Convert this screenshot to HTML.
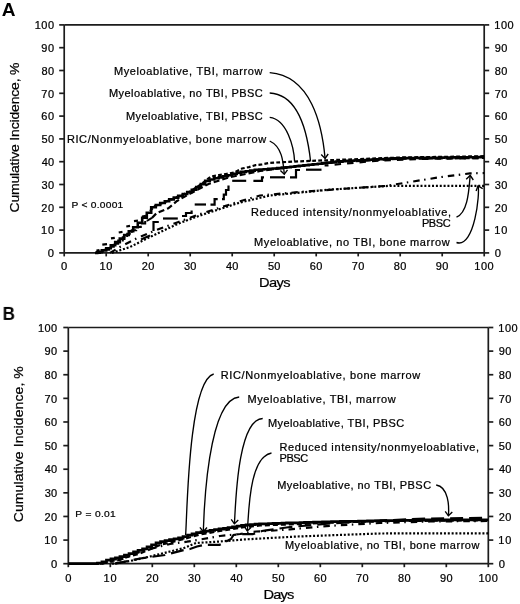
<!DOCTYPE html>
<html><head><meta charset="utf-8"><style>
html,body{margin:0;padding:0;background:#fff;}
svg{display:block;will-change:transform;}
text{font-family:"Liberation Sans", sans-serif;fill:#000;font-kerning:none;stroke:#000;stroke-width:0.22px;}
</style></head><body>
<svg width="520" height="604" viewBox="0 0 520 604">
<defs><filter id="b" x="0" y="0" width="520" height="604" filterUnits="userSpaceOnUse"><feGaussianBlur stdDeviation="0.3"/></filter></defs>
<rect width="520" height="604" fill="#fff"/>
<g filter="url(#b)">
<line x1="64.2" y1="24.9" x2="64.2" y2="252.9" stroke="#1e1e1e" stroke-width="1.7"/>
<line x1="484.2" y1="24.9" x2="484.2" y2="252.9" stroke="#1e1e1e" stroke-width="1.7"/>
<line x1="64.2" y1="24.9" x2="484.2" y2="24.9" stroke="#1e1e1e" stroke-width="1.7"/>
<line x1="64.2" y1="252.9" x2="484.2" y2="252.9" stroke="#1e1e1e" stroke-width="1.7"/>
<line x1="59.2" y1="252.9" x2="64.2" y2="252.9" stroke="#1e1e1e" stroke-width="1.7"/>
<line x1="484.2" y1="252.9" x2="489.2" y2="252.9" stroke="#1e1e1e" stroke-width="1.7"/>
<text transform="translate(47.80,257.10) scale(1.121,1)" x="0" y="0" font-size="10.0" style="letter-spacing:0.000px">0</text>
<text transform="translate(494.76,257.10) scale(1.121,1)" x="0" y="0" font-size="10.0" style="letter-spacing:0.000px">0</text>
<line x1="59.2" y1="230.1" x2="64.2" y2="230.1" stroke="#1e1e1e" stroke-width="1.7"/>
<line x1="484.2" y1="230.1" x2="489.2" y2="230.1" stroke="#1e1e1e" stroke-width="1.7"/>
<text transform="translate(41.04,234.30) scale(1.100,1)" x="0" y="0" font-size="10.0" style="letter-spacing:0.684px">10</text>
<text transform="translate(494.36,234.30) scale(1.100,1)" x="0" y="0" font-size="10.0" style="letter-spacing:0.684px">10</text>
<line x1="59.2" y1="207.3" x2="64.2" y2="207.3" stroke="#1e1e1e" stroke-width="1.7"/>
<line x1="484.2" y1="207.3" x2="489.2" y2="207.3" stroke="#1e1e1e" stroke-width="1.7"/>
<text transform="translate(41.33,211.50) scale(1.100,1)" x="0" y="0" font-size="10.0" style="letter-spacing:0.425px">20</text>
<text transform="translate(494.65,211.50) scale(1.100,1)" x="0" y="0" font-size="10.0" style="letter-spacing:0.425px">20</text>
<line x1="59.2" y1="184.5" x2="64.2" y2="184.5" stroke="#1e1e1e" stroke-width="1.7"/>
<line x1="484.2" y1="184.5" x2="489.2" y2="184.5" stroke="#1e1e1e" stroke-width="1.7"/>
<text transform="translate(41.46,188.70) scale(1.100,1)" x="0" y="0" font-size="10.0" style="letter-spacing:0.303px">30</text>
<text transform="translate(494.78,188.70) scale(1.100,1)" x="0" y="0" font-size="10.0" style="letter-spacing:0.303px">30</text>
<line x1="59.2" y1="161.7" x2="64.2" y2="161.7" stroke="#1e1e1e" stroke-width="1.7"/>
<line x1="484.2" y1="161.7" x2="489.2" y2="161.7" stroke="#1e1e1e" stroke-width="1.7"/>
<text transform="translate(41.63,165.90) scale(1.100,1)" x="0" y="0" font-size="10.0" style="letter-spacing:0.152px">40</text>
<text transform="translate(494.95,165.90) scale(1.100,1)" x="0" y="0" font-size="10.0" style="letter-spacing:0.152px">40</text>
<line x1="59.2" y1="138.9" x2="64.2" y2="138.9" stroke="#1e1e1e" stroke-width="1.7"/>
<line x1="484.2" y1="138.9" x2="489.2" y2="138.9" stroke="#1e1e1e" stroke-width="1.7"/>
<text transform="translate(41.44,143.10) scale(1.100,1)" x="0" y="0" font-size="10.0" style="letter-spacing:0.323px">50</text>
<text transform="translate(494.76,143.10) scale(1.100,1)" x="0" y="0" font-size="10.0" style="letter-spacing:0.323px">50</text>
<line x1="59.2" y1="116.1" x2="64.2" y2="116.1" stroke="#1e1e1e" stroke-width="1.7"/>
<line x1="484.2" y1="116.1" x2="489.2" y2="116.1" stroke="#1e1e1e" stroke-width="1.7"/>
<text transform="translate(41.32,120.30) scale(1.100,1)" x="0" y="0" font-size="10.0" style="letter-spacing:0.430px">60</text>
<text transform="translate(494.64,120.30) scale(1.100,1)" x="0" y="0" font-size="10.0" style="letter-spacing:0.430px">60</text>
<line x1="59.2" y1="93.30000000000001" x2="64.2" y2="93.30000000000001" stroke="#1e1e1e" stroke-width="1.7"/>
<line x1="484.2" y1="93.30000000000001" x2="489.2" y2="93.30000000000001" stroke="#1e1e1e" stroke-width="1.7"/>
<text transform="translate(41.32,97.50) scale(1.100,1)" x="0" y="0" font-size="10.0" style="letter-spacing:0.435px">70</text>
<text transform="translate(494.64,97.50) scale(1.100,1)" x="0" y="0" font-size="10.0" style="letter-spacing:0.435px">70</text>
<line x1="59.2" y1="70.5" x2="64.2" y2="70.5" stroke="#1e1e1e" stroke-width="1.7"/>
<line x1="484.2" y1="70.5" x2="489.2" y2="70.5" stroke="#1e1e1e" stroke-width="1.7"/>
<text transform="translate(41.40,74.70) scale(1.100,1)" x="0" y="0" font-size="10.0" style="letter-spacing:0.357px">80</text>
<text transform="translate(494.72,74.70) scale(1.100,1)" x="0" y="0" font-size="10.0" style="letter-spacing:0.357px">80</text>
<line x1="59.2" y1="47.70000000000002" x2="64.2" y2="47.70000000000002" stroke="#1e1e1e" stroke-width="1.7"/>
<line x1="484.2" y1="47.70000000000002" x2="489.2" y2="47.70000000000002" stroke="#1e1e1e" stroke-width="1.7"/>
<text transform="translate(41.36,51.90) scale(1.100,1)" x="0" y="0" font-size="10.0" style="letter-spacing:0.391px">90</text>
<text transform="translate(494.68,51.90) scale(1.100,1)" x="0" y="0" font-size="10.0" style="letter-spacing:0.391px">90</text>
<line x1="59.2" y1="24.900000000000006" x2="64.2" y2="24.900000000000006" stroke="#1e1e1e" stroke-width="1.7"/>
<line x1="484.2" y1="24.900000000000006" x2="489.2" y2="24.900000000000006" stroke="#1e1e1e" stroke-width="1.7"/>
<text transform="translate(34.68,29.10) scale(1.100,1)" x="0" y="0" font-size="10.0" style="letter-spacing:0.452px">100</text>
<text transform="translate(494.36,29.10) scale(1.100,1)" x="0" y="0" font-size="10.0" style="letter-spacing:0.452px">100</text>
<line x1="64.2" y1="252.9" x2="64.2" y2="256.4" stroke="#1e1e1e" stroke-width="1.7"/>
<text transform="translate(61.08,270.10) scale(1.121,1)" x="0" y="0" font-size="10.0" style="letter-spacing:0.000px">0</text>
<line x1="106.2" y1="252.9" x2="106.2" y2="256.4" stroke="#1e1e1e" stroke-width="1.7"/>
<text transform="translate(99.50,270.10) scale(1.100,1)" x="0" y="0" font-size="10.0" style="letter-spacing:0.684px">10</text>
<line x1="148.2" y1="252.9" x2="148.2" y2="256.4" stroke="#1e1e1e" stroke-width="1.7"/>
<text transform="translate(141.79,270.10) scale(1.100,1)" x="0" y="0" font-size="10.0" style="letter-spacing:0.425px">20</text>
<line x1="190.2" y1="252.9" x2="190.2" y2="256.4" stroke="#1e1e1e" stroke-width="1.7"/>
<text transform="translate(183.92,270.10) scale(1.100,1)" x="0" y="0" font-size="10.0" style="letter-spacing:0.303px">30</text>
<line x1="232.2" y1="252.9" x2="232.2" y2="256.4" stroke="#1e1e1e" stroke-width="1.7"/>
<text transform="translate(226.09,270.10) scale(1.100,1)" x="0" y="0" font-size="10.0" style="letter-spacing:0.152px">40</text>
<line x1="274.2" y1="252.9" x2="274.2" y2="256.4" stroke="#1e1e1e" stroke-width="1.7"/>
<text transform="translate(267.90,270.10) scale(1.100,1)" x="0" y="0" font-size="10.0" style="letter-spacing:0.323px">50</text>
<line x1="316.2" y1="252.9" x2="316.2" y2="256.4" stroke="#1e1e1e" stroke-width="1.7"/>
<text transform="translate(309.78,270.10) scale(1.100,1)" x="0" y="0" font-size="10.0" style="letter-spacing:0.430px">60</text>
<line x1="358.2" y1="252.9" x2="358.2" y2="256.4" stroke="#1e1e1e" stroke-width="1.7"/>
<text transform="translate(351.78,270.10) scale(1.100,1)" x="0" y="0" font-size="10.0" style="letter-spacing:0.435px">70</text>
<line x1="400.2" y1="252.9" x2="400.2" y2="256.4" stroke="#1e1e1e" stroke-width="1.7"/>
<text transform="translate(393.86,270.10) scale(1.100,1)" x="0" y="0" font-size="10.0" style="letter-spacing:0.357px">80</text>
<line x1="442.2" y1="252.9" x2="442.2" y2="256.4" stroke="#1e1e1e" stroke-width="1.7"/>
<text transform="translate(435.82,270.10) scale(1.100,1)" x="0" y="0" font-size="10.0" style="letter-spacing:0.391px">90</text>
<line x1="484.2" y1="252.9" x2="484.2" y2="256.4" stroke="#1e1e1e" stroke-width="1.7"/>
<text transform="translate(474.32,270.10) scale(1.100,1)" x="0" y="0" font-size="10.0" style="letter-spacing:0.452px">100</text>
<text transform="translate(259.10,287.30) scale(1.100,1)" x="0" y="0" font-size="13.3" style="letter-spacing:-0.577px">Days</text>
<text transform="translate(18.90,212.51) rotate(-90) scale(1.050,1)" x="0" y="0" font-size="13.3" style="letter-spacing:-0.155px">Cumulative Incidence, %</text>
<text transform="translate(1.82,15.70) scale(1.037,1)" x="0" y="0" font-size="18.4" font-weight="bold" style="stroke-width:0;letter-spacing:0.000px">A</text>
<line x1="68.3" y1="327.5" x2="68.3" y2="563.7" stroke="#1e1e1e" stroke-width="1.7"/>
<line x1="488.3" y1="327.5" x2="488.3" y2="563.7" stroke="#1e1e1e" stroke-width="1.7"/>
<line x1="68.3" y1="327.5" x2="488.3" y2="327.5" stroke="#1e1e1e" stroke-width="1.7"/>
<line x1="68.3" y1="563.7" x2="488.3" y2="563.7" stroke="#1e1e1e" stroke-width="1.7"/>
<line x1="63.3" y1="563.7" x2="68.3" y2="563.7" stroke="#1e1e1e" stroke-width="1.7"/>
<line x1="488.3" y1="563.7" x2="493.3" y2="563.7" stroke="#1e1e1e" stroke-width="1.7"/>
<text transform="translate(51.00,567.90) scale(1.121,1)" x="0" y="0" font-size="10.0" style="letter-spacing:0.000px">0</text>
<text transform="translate(498.76,567.90) scale(1.121,1)" x="0" y="0" font-size="10.0" style="letter-spacing:0.000px">0</text>
<line x1="63.3" y1="540.08" x2="68.3" y2="540.08" stroke="#1e1e1e" stroke-width="1.7"/>
<line x1="488.3" y1="540.08" x2="493.3" y2="540.08" stroke="#1e1e1e" stroke-width="1.7"/>
<text transform="translate(44.24,544.28) scale(1.100,1)" x="0" y="0" font-size="10.0" style="letter-spacing:0.684px">10</text>
<text transform="translate(498.36,544.28) scale(1.100,1)" x="0" y="0" font-size="10.0" style="letter-spacing:0.684px">10</text>
<line x1="63.3" y1="516.46" x2="68.3" y2="516.46" stroke="#1e1e1e" stroke-width="1.7"/>
<line x1="488.3" y1="516.46" x2="493.3" y2="516.46" stroke="#1e1e1e" stroke-width="1.7"/>
<text transform="translate(44.53,520.66) scale(1.100,1)" x="0" y="0" font-size="10.0" style="letter-spacing:0.425px">20</text>
<text transform="translate(498.65,520.66) scale(1.100,1)" x="0" y="0" font-size="10.0" style="letter-spacing:0.425px">20</text>
<line x1="63.3" y1="492.84000000000003" x2="68.3" y2="492.84000000000003" stroke="#1e1e1e" stroke-width="1.7"/>
<line x1="488.3" y1="492.84000000000003" x2="493.3" y2="492.84000000000003" stroke="#1e1e1e" stroke-width="1.7"/>
<text transform="translate(44.66,497.04) scale(1.100,1)" x="0" y="0" font-size="10.0" style="letter-spacing:0.303px">30</text>
<text transform="translate(498.78,497.04) scale(1.100,1)" x="0" y="0" font-size="10.0" style="letter-spacing:0.303px">30</text>
<line x1="63.3" y1="469.22" x2="68.3" y2="469.22" stroke="#1e1e1e" stroke-width="1.7"/>
<line x1="488.3" y1="469.22" x2="493.3" y2="469.22" stroke="#1e1e1e" stroke-width="1.7"/>
<text transform="translate(44.83,473.42) scale(1.100,1)" x="0" y="0" font-size="10.0" style="letter-spacing:0.152px">40</text>
<text transform="translate(498.95,473.42) scale(1.100,1)" x="0" y="0" font-size="10.0" style="letter-spacing:0.152px">40</text>
<line x1="63.3" y1="445.6" x2="68.3" y2="445.6" stroke="#1e1e1e" stroke-width="1.7"/>
<line x1="488.3" y1="445.6" x2="493.3" y2="445.6" stroke="#1e1e1e" stroke-width="1.7"/>
<text transform="translate(44.64,449.80) scale(1.100,1)" x="0" y="0" font-size="10.0" style="letter-spacing:0.323px">50</text>
<text transform="translate(498.76,449.80) scale(1.100,1)" x="0" y="0" font-size="10.0" style="letter-spacing:0.323px">50</text>
<line x1="63.3" y1="421.98" x2="68.3" y2="421.98" stroke="#1e1e1e" stroke-width="1.7"/>
<line x1="488.3" y1="421.98" x2="493.3" y2="421.98" stroke="#1e1e1e" stroke-width="1.7"/>
<text transform="translate(44.52,426.18) scale(1.100,1)" x="0" y="0" font-size="10.0" style="letter-spacing:0.430px">60</text>
<text transform="translate(498.64,426.18) scale(1.100,1)" x="0" y="0" font-size="10.0" style="letter-spacing:0.430px">60</text>
<line x1="63.3" y1="398.36" x2="68.3" y2="398.36" stroke="#1e1e1e" stroke-width="1.7"/>
<line x1="488.3" y1="398.36" x2="493.3" y2="398.36" stroke="#1e1e1e" stroke-width="1.7"/>
<text transform="translate(44.52,402.56) scale(1.100,1)" x="0" y="0" font-size="10.0" style="letter-spacing:0.435px">70</text>
<text transform="translate(498.64,402.56) scale(1.100,1)" x="0" y="0" font-size="10.0" style="letter-spacing:0.435px">70</text>
<line x1="63.3" y1="374.74" x2="68.3" y2="374.74" stroke="#1e1e1e" stroke-width="1.7"/>
<line x1="488.3" y1="374.74" x2="493.3" y2="374.74" stroke="#1e1e1e" stroke-width="1.7"/>
<text transform="translate(44.60,378.94) scale(1.100,1)" x="0" y="0" font-size="10.0" style="letter-spacing:0.357px">80</text>
<text transform="translate(498.72,378.94) scale(1.100,1)" x="0" y="0" font-size="10.0" style="letter-spacing:0.357px">80</text>
<line x1="63.3" y1="351.12" x2="68.3" y2="351.12" stroke="#1e1e1e" stroke-width="1.7"/>
<line x1="488.3" y1="351.12" x2="493.3" y2="351.12" stroke="#1e1e1e" stroke-width="1.7"/>
<text transform="translate(44.56,355.32) scale(1.100,1)" x="0" y="0" font-size="10.0" style="letter-spacing:0.391px">90</text>
<text transform="translate(498.68,355.32) scale(1.100,1)" x="0" y="0" font-size="10.0" style="letter-spacing:0.391px">90</text>
<line x1="63.3" y1="327.5" x2="68.3" y2="327.5" stroke="#1e1e1e" stroke-width="1.7"/>
<line x1="488.3" y1="327.5" x2="493.3" y2="327.5" stroke="#1e1e1e" stroke-width="1.7"/>
<text transform="translate(37.88,331.70) scale(1.100,1)" x="0" y="0" font-size="10.0" style="letter-spacing:0.452px">100</text>
<text transform="translate(498.36,331.70) scale(1.100,1)" x="0" y="0" font-size="10.0" style="letter-spacing:0.452px">100</text>
<line x1="68.3" y1="563.7" x2="68.3" y2="567.2" stroke="#1e1e1e" stroke-width="1.7"/>
<text transform="translate(65.18,581.50) scale(1.121,1)" x="0" y="0" font-size="10.0" style="letter-spacing:0.000px">0</text>
<line x1="110.3" y1="563.7" x2="110.3" y2="567.2" stroke="#1e1e1e" stroke-width="1.7"/>
<text transform="translate(103.60,581.50) scale(1.100,1)" x="0" y="0" font-size="10.0" style="letter-spacing:0.684px">10</text>
<line x1="152.3" y1="563.7" x2="152.3" y2="567.2" stroke="#1e1e1e" stroke-width="1.7"/>
<text transform="translate(145.89,581.50) scale(1.100,1)" x="0" y="0" font-size="10.0" style="letter-spacing:0.425px">20</text>
<line x1="194.3" y1="563.7" x2="194.3" y2="567.2" stroke="#1e1e1e" stroke-width="1.7"/>
<text transform="translate(188.02,581.50) scale(1.100,1)" x="0" y="0" font-size="10.0" style="letter-spacing:0.303px">30</text>
<line x1="236.3" y1="563.7" x2="236.3" y2="567.2" stroke="#1e1e1e" stroke-width="1.7"/>
<text transform="translate(230.19,581.50) scale(1.100,1)" x="0" y="0" font-size="10.0" style="letter-spacing:0.152px">40</text>
<line x1="278.3" y1="563.7" x2="278.3" y2="567.2" stroke="#1e1e1e" stroke-width="1.7"/>
<text transform="translate(272.00,581.50) scale(1.100,1)" x="0" y="0" font-size="10.0" style="letter-spacing:0.323px">50</text>
<line x1="320.3" y1="563.7" x2="320.3" y2="567.2" stroke="#1e1e1e" stroke-width="1.7"/>
<text transform="translate(313.88,581.50) scale(1.100,1)" x="0" y="0" font-size="10.0" style="letter-spacing:0.430px">60</text>
<line x1="362.3" y1="563.7" x2="362.3" y2="567.2" stroke="#1e1e1e" stroke-width="1.7"/>
<text transform="translate(355.88,581.50) scale(1.100,1)" x="0" y="0" font-size="10.0" style="letter-spacing:0.435px">70</text>
<line x1="404.3" y1="563.7" x2="404.3" y2="567.2" stroke="#1e1e1e" stroke-width="1.7"/>
<text transform="translate(397.96,581.50) scale(1.100,1)" x="0" y="0" font-size="10.0" style="letter-spacing:0.357px">80</text>
<line x1="446.3" y1="563.7" x2="446.3" y2="567.2" stroke="#1e1e1e" stroke-width="1.7"/>
<text transform="translate(439.92,581.50) scale(1.100,1)" x="0" y="0" font-size="10.0" style="letter-spacing:0.391px">90</text>
<line x1="488.3" y1="563.7" x2="488.3" y2="567.2" stroke="#1e1e1e" stroke-width="1.7"/>
<text transform="translate(478.42,581.50) scale(1.100,1)" x="0" y="0" font-size="10.0" style="letter-spacing:0.452px">100</text>
<text transform="translate(263.40,599.20) scale(1.100,1)" x="0" y="0" font-size="13.3" style="letter-spacing:-0.728px">Days</text>
<text transform="translate(22.50,522.21) rotate(-90) scale(1.050,1)" x="0" y="0" font-size="13.3" style="letter-spacing:0.105px">Cumulative Incidence, %</text>
<text transform="translate(2.61,319.90) scale(0.922,1)" x="0" y="0" font-size="18.4" font-weight="bold" style="stroke-width:0;letter-spacing:0.000px">B</text>
<text transform="translate(113.90,74.50) scale(1.100,1)" x="0" y="0" font-size="10.0" style="letter-spacing:0.557px">Myeloablative, TBI, marrow</text>
<text transform="translate(108.90,97.20) scale(1.100,1)" x="0" y="0" font-size="10.0" style="letter-spacing:0.426px">Myeloablative, no TBI, PBSC</text>
<text transform="translate(125.90,120.20) scale(1.100,1)" x="0" y="0" font-size="10.0" style="letter-spacing:0.414px">Myeloablative, TBI, PBSC</text>
<text transform="translate(66.90,143.40) scale(1.100,1)" x="0" y="0" font-size="10.0" style="letter-spacing:0.558px">RIC/Nonmyeloablative, bone marrow</text>
<text transform="translate(71.46,208.20) scale(1.100,1)" x="0" y="0" font-size="9.3" style="letter-spacing:0.209px">P &lt; 0.0001</text>
<text transform="translate(251.00,215.70) scale(1.100,1)" x="0" y="0" font-size="10.0" style="letter-spacing:0.562px">Reduced intensity/nonmyeloablative,</text>
<text transform="translate(421.90,226.80) scale(1.100,1)" x="0" y="0" font-size="10.0" style="letter-spacing:-0.374px">PBSC</text>
<text transform="translate(254.10,245.50) scale(1.100,1)" x="0" y="0" font-size="10.0" style="letter-spacing:0.540px">Myeloablative, no TBI, bone marrow</text>
<text transform="translate(220.80,379.40) scale(1.100,1)" x="0" y="0" font-size="10.0" style="letter-spacing:0.566px">RIC/Nonmyeloablative, bone marrow</text>
<text transform="translate(247.40,402.70) scale(1.100,1)" x="0" y="0" font-size="10.0" style="letter-spacing:0.550px">Myeloablative, TBI, marrow</text>
<text transform="translate(267.90,426.70) scale(1.100,1)" x="0" y="0" font-size="10.0" style="letter-spacing:0.390px">Myeloablative, TBI, PBSC</text>
<text transform="translate(279.50,451.20) scale(1.100,1)" x="0" y="0" font-size="10.0" style="letter-spacing:0.549px">Reduced intensity/nonmyeloablative,</text>
<text transform="translate(279.50,462.30) scale(1.100,1)" x="0" y="0" font-size="10.0" style="letter-spacing:-0.374px">PBSC</text>
<text transform="translate(277.20,488.70) scale(1.100,1)" x="0" y="0" font-size="10.0" style="letter-spacing:0.426px">Myeloablative, no TBI, PBSC</text>
<text transform="translate(75.26,517.30) scale(1.100,1)" x="0" y="0" font-size="9.3" style="letter-spacing:0.279px">P = 0.01</text>
<text transform="translate(284.90,548.80) scale(1.100,1)" x="0" y="0" font-size="10.0" style="letter-spacing:0.515px">Myeloablative, no TBI, bone marrow</text>
<polyline points="96.5,250.6 99.5,250.0" fill="none" stroke="#000" stroke-width="2.2" stroke-linejoin="miter"/>
<polyline points="102.3,244.7 107.0,244.1" fill="none" stroke="#000" stroke-width="2.2" stroke-linejoin="miter"/>
<polyline points="111.0,238.4 114.8,237.8" fill="none" stroke="#000" stroke-width="2.2" stroke-linejoin="miter"/>
<polyline points="118.7,232.5 122.5,231.9" fill="none" stroke="#000" stroke-width="2.2" stroke-linejoin="miter"/>
<polyline points="126.3,226.5 130.0,225.9" fill="none" stroke="#000" stroke-width="2.2" stroke-linejoin="miter"/>
<polyline points="134.0,221.2 138.0,220.6" fill="none" stroke="#000" stroke-width="2.2" stroke-linejoin="miter"/>
<polyline points="142.0,216.5 146.0,215.9" fill="none" stroke="#000" stroke-width="2.2" stroke-linejoin="miter"/>
<polyline points="150.0,211.0 155.0,206.0 170.0,200.0 190.0,191.5 200.0,185.0 211.0,176.5 219.0,175.2 227.0,173.8 234.0,172.5 242.0,168.5 249.0,167.1 255.6,165.1 262.0,164.4 270.0,162.8 300.0,161.3 340.0,159.8 400.0,157.5 484.2,156.2" fill="none" stroke="#000" stroke-width="2.2" stroke-dasharray="3.8 2.2" stroke-linejoin="miter"/>
<polyline points="95.0,252.9 97.2,252.9 97.2,252.1 101.8,252.1 101.8,250.4 106.2,250.4 106.2,248.2 110.8,248.2 110.8,245.3 115.2,245.3 115.2,242.1 119.8,242.1 119.8,238.6 124.2,238.6 124.2,235.0 128.8,235.0 128.8,231.2 133.2,231.2 133.2,227.2 137.8,227.2 137.8,222.8 142.2,222.8 142.2,217.8 146.8,217.8 146.8,212.7 151.2,212.7 151.2,207.3 155.8,207.3 155.8,205.0 160.2,205.0 160.2,203.0 164.8,203.0 164.8,201.2 169.2,201.2 169.2,199.4 173.8,199.4 173.8,197.6 178.2,197.6 178.2,195.9 182.8,195.9 182.8,194.0 187.2,194.0 187.2,192.0 191.8,192.0 191.8,189.7 196.2,189.7 196.2,187.0 200.8,187.0 200.8,184.1 205.2,184.1 205.2,180.9 209.8,180.9 209.8,179.5 214.2,179.5 214.2,178.2 218.8,178.2 218.8,177.4 223.2,177.4 223.2,176.3 227.8,176.3 227.8,175.2 232.2,175.2 232.2,173.9 236.8,173.9 236.8,172.6 241.2,172.6 241.2,171.9 245.8,171.9 245.8,171.3 250.2,171.3 250.2,170.6 254.8,170.6 254.8,169.8 259.2,169.8 259.2,169.5 263.8,169.5 263.8,169.2 268.2,169.2 268.2,168.9 272.8,168.9 272.8,168.5 277.2,168.5 277.2,168.1 281.8,168.1 281.8,167.6 286.2,167.6 286.2,167.2 290.8,167.2 290.8,166.7 295.2,166.7 295.2,166.2 299.8,166.2 299.8,165.8 304.2,165.8 304.2,165.2 308.8,165.2 308.8,164.7 313.2,164.7 313.2,164.2 317.8,164.2 317.8,163.7 322.2,163.7 322.2,163.1 326.8,163.1 326.8,162.6 331.2,162.6 331.2,162.1 335.8,162.1 335.8,161.5 340.2,161.5 340.2,161.2 344.8,161.2 344.8,160.9 349.2,160.9 349.2,160.7 353.8,160.7 353.8,160.5 358.2,160.5 358.2,160.2 362.8,160.2 362.8,160.0 367.2,160.0 367.2,159.8 371.8,159.8 371.8,159.5 376.2,159.5 376.2,159.3 380.8,159.3 380.8,159.1 385.2,159.1 385.2,158.8 389.8,158.8 389.8,158.6 394.2,158.6 394.2,158.4 398.8,158.4 398.8,158.2 403.2,158.2 403.2,158.1 407.8,158.1 407.8,158.1 412.2,158.1 412.2,158.0 416.8,158.0 416.8,157.9 421.2,157.9 421.2,157.9 425.8,157.9 425.8,157.8 430.2,157.8 430.2,157.7 434.8,157.7 434.8,157.7 439.2,157.7 439.2,157.6 443.8,157.6 443.8,157.5 448.2,157.5 448.2,157.5 452.8,157.5 452.8,157.4 457.2,157.4 457.2,157.4 461.8,157.4 461.8,157.3 466.2,157.3 466.2,157.2 470.8,157.2 470.8,157.2 475.2,157.2 475.2,157.1 479.8,157.1 479.8,157.0 482.0,157.0 484.2,157.0" fill="none" stroke="#000" stroke-width="2.6" stroke-linejoin="miter"/>
<polyline points="98.0,252.9 100.2,252.9 100.2,251.7 104.8,251.7 104.8,249.7 109.2,249.7 109.2,246.7 113.8,246.7 113.8,243.7 118.2,243.7 118.2,240.6 122.8,240.6 122.8,237.2 127.2,237.2 127.2,233.7 131.8,233.7 131.8,230.3 136.2,230.3 136.2,226.9 140.8,226.9 140.8,223.5 145.2,223.5 145.2,220.5 147.5,220.5 151.9,217.9" fill="none" stroke="#000" stroke-width="2.0" stroke-dasharray="7 2" stroke-linejoin="miter"/>
<polyline points="151.9,217.9 156.7,213.0 168.3,208.3 177.0,201.0 186.5,195.5 196.0,190.5 208.5,184.0 228.5,177.5 260.0,171.0 300.0,165.5 340.0,162.0 400.0,158.8 484.2,158.0" fill="none" stroke="#000" stroke-width="2.2" stroke-dasharray="6 3" stroke-linejoin="miter"/>
<polyline points="141.0,239.5 150.0,235.5" fill="none" stroke="#000" stroke-width="2.2" stroke-linejoin="miter"/>
<polyline points="153.5,231.0 153.5,222.0 158.8,222.0" fill="none" stroke="#000" stroke-width="2.2" stroke-linejoin="miter"/>
<polyline points="163.0,218.5 177.8,218.5" fill="none" stroke="#000" stroke-width="2.2" stroke-linejoin="miter"/>
<polyline points="182.0,216.0 186.0,216.0 186.0,213.0 191.6,213.0 191.6,210.5" fill="none" stroke="#000" stroke-width="2.2" stroke-linejoin="miter"/>
<polyline points="194.7,204.5 206.0,204.5" fill="none" stroke="#000" stroke-width="2.2" stroke-linejoin="miter"/>
<polyline points="210.5,204.6 214.6,204.6 214.6,199.2 217.7,199.2" fill="none" stroke="#000" stroke-width="2.2" stroke-linejoin="miter"/>
<polyline points="222.0,199.2 223.8,199.2 223.8,194.6 226.0,194.6 226.0,190.0 228.5,190.0 228.5,185.4" fill="none" stroke="#000" stroke-width="2.2" stroke-linejoin="miter"/>
<polyline points="232.2,180.8 246.2,180.8" fill="none" stroke="#000" stroke-width="2.2" stroke-linejoin="miter"/>
<polyline points="253.4,180.8 262.0,180.8 262.0,177.3 264.0,177.3" fill="none" stroke="#000" stroke-width="2.2" stroke-linejoin="miter"/>
<polyline points="270.0,177.3 285.0,177.3" fill="none" stroke="#000" stroke-width="2.2" stroke-linejoin="miter"/>
<polyline points="290.0,177.3 296.0,177.3 296.0,170.0 300.0,170.0" fill="none" stroke="#000" stroke-width="2.2" stroke-linejoin="miter"/>
<polyline points="306.0,169.7 321.5,169.7" fill="none" stroke="#000" stroke-width="2.2" stroke-linejoin="miter"/>
<polyline points="324.6,165.4 328.5,165.4" fill="none" stroke="#000" stroke-width="2.2" stroke-linejoin="miter"/>
<polyline points="334.6,164.6 380.0,160.5 420.0,159.0 460.0,158.3 484.2,158.2" fill="none" stroke="#000" stroke-width="2.2" stroke-dasharray="6.5 6" stroke-linejoin="miter"/>
<polyline points="110.0,252.9 120.0,247.0 138.5,237.5 157.7,229.5 178.5,222.0 200.0,214.0 240.0,201.3 260.0,195.5 300.0,192.0 340.0,189.0 385.0,186.0 410.0,182.0 440.0,177.2 470.0,173.4 484.2,173.0" fill="none" stroke="#000" stroke-width="2.2" stroke-dasharray="6.5 4.5 1.5 5" stroke-linejoin="miter"/>
<polyline points="112.0,252.9 130.0,247.0 150.0,237.0 178.5,223.5 200.0,215.5 240.0,202.5 270.0,195.5 330.0,189.6 390.0,185.8 484.2,185.8" fill="none" stroke="#000" stroke-width="2.2" stroke-dasharray="2 1.85" stroke-linejoin="miter"/>
<polyline points="68.3,563.7 70.5,563.7 70.5,563.7 75.0,563.7 75.0,563.7 79.5,563.7 79.5,563.7 84.0,563.7 84.0,563.7 88.5,563.7 88.5,563.7 93.0,563.7 93.0,563.7 97.5,563.7 97.5,563.2 102.0,563.2 102.0,561.9 106.5,561.9 106.5,560.2 111.0,560.2 111.0,559.0 115.5,559.0 115.5,557.8 120.0,557.8 120.0,556.6 124.5,556.6 124.5,555.2 129.1,555.2 129.1,553.6 133.6,553.6 133.6,552.0 138.1,552.0 138.1,550.4 142.6,550.4 142.6,548.9 147.1,548.9 147.1,546.8 151.6,546.8 151.6,544.9 156.1,544.9 156.1,543.0 160.6,543.0 160.6,541.7 165.1,541.7 165.1,540.6 169.6,540.6 169.6,539.7 174.1,539.7 174.1,538.9 178.6,538.9 178.6,538.0 183.1,538.0 183.1,536.6 187.6,536.6 187.6,535.2 192.1,535.2 192.1,534.0 196.6,534.0 196.6,532.7 201.1,532.7 201.1,531.9 205.6,531.9 205.6,531.2 210.1,531.2 210.1,530.4 214.6,530.4 214.6,529.7 219.1,529.7 219.1,529.0 223.6,529.0 223.6,528.3 228.1,528.3 228.1,527.6 232.6,527.6 232.6,526.8 237.1,526.8 237.1,526.1 241.6,526.1 241.6,525.4 246.1,525.4 246.1,524.9 250.6,524.9 250.6,524.6 255.1,524.6 255.1,524.2 259.6,524.2 259.6,523.9 264.1,523.9 264.1,523.8 268.6,523.8 268.6,523.6 273.1,523.6 273.1,523.5 277.6,523.5 277.6,523.3 282.1,523.3 282.1,523.2 286.6,523.2 286.6,523.0 291.1,523.0 291.1,522.9 295.6,522.9 295.6,522.8 300.1,522.8 300.1,522.6 304.6,522.6 304.6,522.5 309.1,522.5 309.1,522.4 313.6,522.4 313.6,522.2 318.1,522.2 318.1,522.1 322.6,522.1 322.6,522.0 327.1,522.0 327.1,521.8 331.6,521.8 331.6,521.7 336.1,521.7 336.1,521.6 340.6,521.6 340.6,521.5 345.1,521.5 345.1,521.5 349.6,521.5 349.6,521.4 354.1,521.4 354.1,521.3 358.6,521.3 358.6,521.2 363.1,521.2 363.1,521.1 367.6,521.1 367.6,521.0 372.1,521.0 372.1,520.9 376.6,520.9 376.6,520.8 381.1,520.8 381.1,520.7 385.6,520.7 385.6,520.7 390.1,520.7 390.1,520.6 394.6,520.6 394.6,520.5 399.1,520.5 399.1,520.5 403.6,520.5 403.6,520.4 408.1,520.4 408.1,520.3 412.6,520.3 412.6,520.2 417.1,520.2 417.1,520.2 421.6,520.2 421.6,520.1 426.1,520.1 426.1,520.0 430.6,520.0 430.6,520.0 435.1,520.0 435.1,520.0 439.6,520.0 439.6,520.0 444.1,520.0 444.1,519.9 448.6,519.9 448.6,519.9 453.1,519.9 453.1,519.9 457.6,519.9 457.6,519.9 462.1,519.9 462.1,519.9 466.6,519.9 466.6,519.9 471.1,519.9 471.1,519.9 475.6,519.9 475.6,519.8 480.1,519.8 480.1,519.8 484.6,519.8 484.6,519.8 486.8,519.8 488.3,519.8" fill="none" stroke="#000" stroke-width="2.8" stroke-linejoin="miter"/>
<polyline points="102.0,563.7 120.0,559.0 140.0,553.5 160.0,545.0 180.0,540.0 200.0,534.5 220.0,531.0 245.0,527.0 260.0,525.5 300.0,524.0 340.0,522.3 400.0,521.0 488.3,520.3" fill="none" stroke="#000" stroke-width="2.2" stroke-dasharray="5 3" stroke-linejoin="miter"/>
<polyline points="100.0,563.7 120.0,560.0 140.0,551.5 170.0,544.0 187.0,541.7 203.0,539.0 220.0,536.0 240.0,534.0 256.0,531.5 270.0,530.8 290.0,529.4 300.0,528.5 330.0,525.8 380.0,523.0 430.0,521.5 488.3,521.0" fill="none" stroke="#000" stroke-width="2.2" stroke-dasharray="6.5 4.5 1.5 5" stroke-linejoin="miter"/>
<polyline points="112.0,563.7 130.0,561.0 150.0,556.5 170.0,551.5 184.0,548.0 196.0,543.0 220.0,541.5 245.0,539.4 270.0,538.0 297.7,536.5 330.0,535.3 380.0,533.5 420.0,533.3 488.3,533.3" fill="none" stroke="#000" stroke-width="2.2" stroke-dasharray="2 1.85" stroke-linejoin="miter"/>
<polyline points="115.0,563.7 140.0,558.5 165.0,555.0 184.0,550.0 190.0,549.0 197.0,546.5 204.6,544.8 219.6,544.8 231.0,539.0 233.5,535.0 240.0,534.2 252.7,534.2 262.0,531.0 290.0,527.0 330.0,523.5 380.0,520.5 430.0,518.5 488.3,517.8" fill="none" stroke="#000" stroke-width="2.2" stroke-dasharray="13 6" stroke-linejoin="miter"/>
<path d="M269.7,72.6 C311.2,75.8 322.1,125.0 325.1,158.5" fill="none" stroke="#000" stroke-width="1.35"/>
<polyline points="328.2,154.0 325.1,158.5 321.2,154.6" fill="none" stroke="#000" stroke-width="1.35"/>
<path d="M269.7,93.0 C300.3,94.5 308.1,138.7 310.6,161.5" fill="none" stroke="#000" stroke-width="1.35"/>
<path d="M269.7,117.4 C287.2,119.5 293.9,147.4 294.6,161.5" fill="none" stroke="#000" stroke-width="1.35"/>
<path d="M269.7,141.0 C282.4,146.9 283.3,162.5 284.3,174.3" fill="none" stroke="#000" stroke-width="1.35"/>
<polyline points="287.5,169.8 284.3,174.3 280.4,170.4" fill="none" stroke="#000" stroke-width="1.35"/>
<path d="M456.5,217.2 C468.8,211.9 469.0,186.2 470.2,175.4" fill="none" stroke="#000" stroke-width="1.35"/>
<polyline points="466.2,179.2 470.2,175.4 473.3,180.0" fill="none" stroke="#000" stroke-width="1.35"/>
<path d="M456.5,242.5 C474.6,248.7 480.2,192.2 478.0,185.9" fill="none" stroke="#000" stroke-width="1.35"/>
<polyline points="476.1,191.0 478.0,185.9 482.7,188.7" fill="none" stroke="#000" stroke-width="1.35"/>
<path d="M213.7,374.0 C188.0,381.2 187.1,519.7 185.6,535.0" fill="none" stroke="#000" stroke-width="1.35"/>
<path d="M239.2,397.0 C207.0,399.4 203.8,517.0 203.3,531.6" fill="none" stroke="#000" stroke-width="1.35"/>
<polyline points="207.0,527.5 203.3,531.6 199.9,527.3" fill="none" stroke="#000" stroke-width="1.35"/>
<path d="M262.7,418.5 C236.9,419.4 235.6,508.5 234.4,523.8" fill="none" stroke="#000" stroke-width="1.35"/>
<polyline points="238.3,519.9 234.4,523.8 231.2,519.3" fill="none" stroke="#000" stroke-width="1.35"/>
<path d="M271.5,453.0 C248.5,457.3 248.9,514.9 247.3,531.0" fill="none" stroke="#000" stroke-width="1.35"/>
<polyline points="251.2,527.2 247.3,531.0 244.2,526.4" fill="none" stroke="#000" stroke-width="1.35"/>
<path d="M436.2,485.0 C448.6,486.9 449.2,506.6 448.4,515.8" fill="none" stroke="#000" stroke-width="1.35"/>
<polyline points="452.3,511.9 448.4,515.8 445.2,511.3" fill="none" stroke="#000" stroke-width="1.35"/>
</g>
</svg>
</body></html>
